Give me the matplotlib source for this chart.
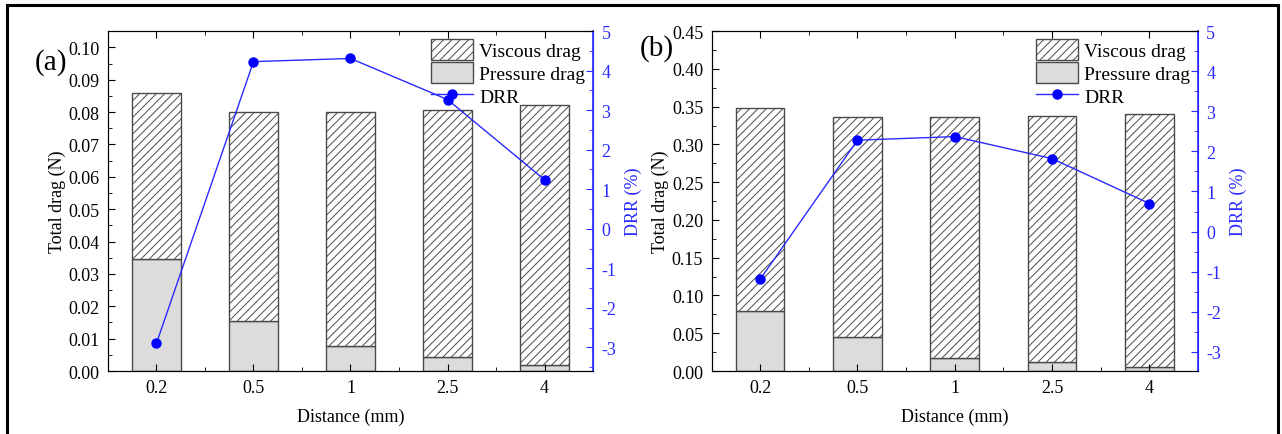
import numpy as np
import matplotlib
matplotlib.use("Agg")
import matplotlib.pyplot as plt
from matplotlib.lines import Line2D
from matplotlib.ticker import MultipleLocator

plt.rcParams['font.family'] = ['Liberation Serif', 'DejaVu Serif']
plt.rcParams['hatch.linewidth'] = 0.7
plt.rcParams['axes.unicode_minus'] = False

distance = ["0.2", "0.5", "1", "2.5", "4"]

# panel (a)
total_a = [0.0858, 0.0799, 0.0799, 0.0808, 0.0823]
pressure_a = [0.0345, 0.0155, 0.0077, 0.0044, 0.0020]
drr_a = [-2.90, 4.23, 4.31, 3.27, 1.24]

# panel (b)
total_b = [0.348, 0.336, 0.336, 0.338, 0.341]
pressure_b = [0.0795, 0.0445, 0.0175, 0.0125, 0.0055]
drr_b = [-1.19, 2.28, 2.37, 1.82, 0.70]

blue = '#2a2aff'
edge = '#4a4a4a'


def draw_panel(rect, total, pressure, drr, ymax, ymaj, ymin, drr_lo, tag, tag_xy):
    ax = fig.add_axes(rect)
    x = np.arange(len(distance))
    viscous = np.array(total) - np.array(pressure)
    b_p = ax.bar(x, pressure, width=0.5, color='#dcdcdc', edgecolor=edge, linewidth=1)
    b_v = ax.bar(x, viscous, bottom=pressure, width=0.5, color='white',
                 edgecolor=edge, linewidth=1, hatch='////')
    ax.set_xlim(-0.5, len(distance) - 0.5)
    ax.set_ylim(0, ymax)
    ax.set_xticks(x)
    ax.set_xticklabels(distance)
    ax.set_xticks(x[:-1] + 0.5, minor=True)
    ax.yaxis.set_major_locator(MultipleLocator(ymaj))
    ax.yaxis.set_minor_locator(MultipleLocator(ymin))
    ax.yaxis.set_major_formatter(plt.FormatStrFormatter('%.2f'))
    ax.tick_params(which='both', direction='in', top=True, labelsize=13, pad=6)
    ax.tick_params(which='major', length=5)
    ax.tick_params(which='minor', length=3)
    ax.set_xlabel("Distance (mm)", fontsize=13, labelpad=8)
    ax.set_ylabel("Total drag (N)", fontsize=13, labelpad=2)
    ax.spines['right'].set_color(blue)

    ax2 = ax.twinx()
    ln, = ax2.plot(x, drr, color=blue, linewidth=1, marker='o', markersize=6.5,
                   markerfacecolor='#0000ff', markeredgecolor='#0000ff')
    ax2.set_ylim(drr_lo, 5)
    ax2.yaxis.set_major_locator(MultipleLocator(1))
    ax2.yaxis.set_minor_locator(MultipleLocator(0.5))
    ax2.tick_params(which='both', direction='in', colors=blue, labelsize=13, pad=6)
    ax2.tick_params(which='major', length=5)
    ax2.tick_params(which='minor', length=3)
    ax2.spines['right'].set_color(blue)
    ax2.spines['right'].set_linewidth(1.2)
    ax2.set_ylabel("DRR (%)", color=blue, fontsize=13, labelpad=6)

    ax2.legend([b_v, b_p, ln], ["Viscous drag", "Pressure drag", "DRR"],
               loc='upper right', frameon=False, fontsize=14, handlelength=2.2,
               handleheight=1.3, handletextpad=0.3, labelspacing=0.1,
               borderaxespad=0.2, borderpad=0.2)
    fig.text(tag_xy[0], tag_xy[1], tag, fontsize=21, va='center', ha='left')
    return ax, ax2


fig = plt.figure(figsize=(12.82, 4.35), dpi=100)

draw_panel([0.0842, 0.1448, 0.3784, 0.7812], total_a, pressure_a, drr_a,
           0.105, 0.01, 0.005, -3.6, "(a)", (0.027, 0.857))
draw_panel([0.555, 0.1448, 0.3795, 0.7812], total_b, pressure_b, drr_b,
           0.45, 0.05, 0.025, -3.48, "(b)", (0.499, 0.889))

# outer frame
for xs, ys in [([7 / 1282, 7 / 1282], [0, 1 - 6 / 435]),
               ([7 / 1282, 1278 / 1282], [1 - 6 / 435, 1 - 6 / 435]),
               ([1278 / 1282, 1278 / 1282], [1 - 6 / 435, 0])]:
    fig.add_artist(Line2D(xs, ys, transform=fig.transFigure, color='black', linewidth=2.2))

fig.savefig("out.png", dpi=100)
